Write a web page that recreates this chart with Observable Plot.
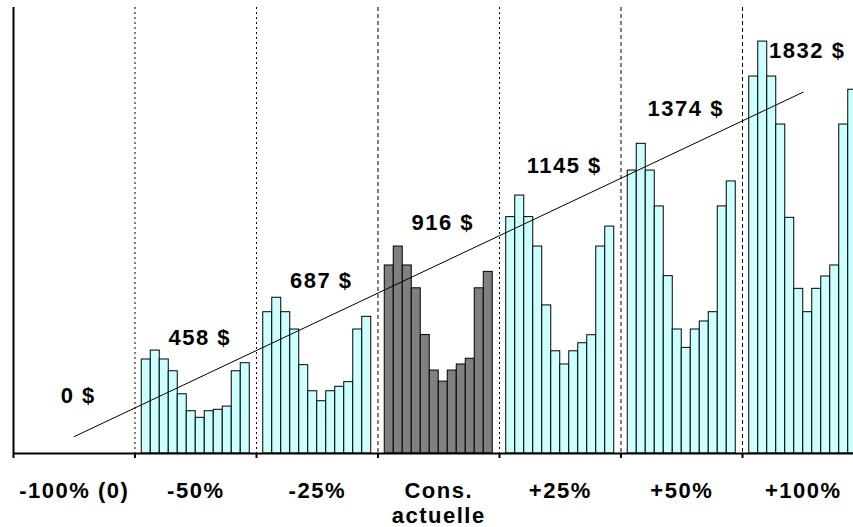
<!DOCTYPE html>
<html>
<head>
<meta charset="utf-8">
<script src="https://cdn.jsdelivr.net/npm/d3@7"></script>
<script src="https://cdn.jsdelivr.net/npm/@observablehq/plot@0.6"></script>
<style>
  html, body { margin: 0; padding: 0; background: #fff; overflow: hidden; }
  #chart svg { display: block; }
</style>
</head>
<body>
<div id="chart"></div>
<script>
// Consumption scenarios (x groups)
const scenarios = ["-100% (0)", "-50%", "-25%", "Cons.\nactuelle", "+25%", "+50%", "+100%"];
// Annual cost for each scenario ($)
const annualCost = [0, 458, 687, 916, 1145, 1374, 1832];

// Monthly cost, January to December ($)
const monthlyMinus100 = [0, 0, 0, 0, 0, 0, 0, 0, 0, 0, 0, 0];
const monthlyMinus50  = [52.7, 57.7, 52.7, 46.1, 33.2, 23.7, 20.0, 23.7, 24.5, 26.3, 46.1, 50.6];
const monthlyMinus25  = [79.2, 87.3, 79.2, 69.5, 49.5, 34.9, 29.3, 34.9, 37.4, 40.0, 69.5, 76.6];
const monthlyCurrent  = [105.4, 116.0, 105.4, 92.6, 66.4, 46.5, 40.3, 46.5, 49.9, 53.1, 92.6, 101.8];
const monthlyPlus25   = [132.5, 144.6, 132.5, 116.0, 83.0, 57.3, 49.9, 57.3, 61.8, 66.3, 116.0, 127.2];
const monthlyPlus50   = [158.6, 173.6, 158.6, 138.5, 99.4, 69.5, 59.2, 69.5, 74.0, 79.2, 138.5, 152.5];
const monthlyPlus100  = [211.3, 230.9, 211.3, 184.4, 132.1, 92.3, 79.2, 92.3, 99.2, 105.4, 184.4, 203.9];

const monthly = [monthlyMinus100, monthlyMinus50, monthlyMinus25, monthlyCurrent,
                 monthlyPlus25, monthlyPlus50, monthlyPlus100];
const currentIndex = 3;

// Two value axes: monthly cost for bars, annual cost for the trend
const primaryMax = 250;
const secondaryMax = 2160;
const toPrimary = v => v * primaryMax / secondaryMax;

// Each group is one unit wide; 12 bars with a 150% gap split on both sides
const slots = 13.5;
const bars = scenarios.flatMap((s, g) =>
  monthly[g].map((v, m) => ({
    g, m, v,
    x1: g + (0.75 + m) / slots,
    x2: g + (1.75 + m) / slots,
    current: g === currentIndex
  }))
).filter(d => d.v > 0);

const totals = annualCost.map((total, i) => ({ x: i + 0.5, total }));

// Least-squares fit of the annual cost, used to place the cost labels
const mx = d3.mean(totals, d => d.x);
const my = d3.mean(totals, d => d.total);
const slope = d3.sum(totals, d => (d.x - mx) * (d.total - my)) /
              d3.sum(totals, d => (d.x - mx) ** 2);
const fit = x => my + slope * (x - mx);

const boundaries = d3.range(1, scenarios.length);
const dashed = [3, 5, 6];

const font = "'Liberation Sans', Arial, Helvetica, sans-serif";

const chart = Plot.plot({
  width: 853,
  height: 527,
  marginTop: 7,
  marginBottom: 74,
  marginLeft: 13,
  marginRight: 0,
  style: `background: #fff; overflow: hidden; font-family: ${font}; letter-spacing: 1.5px;`,
  x: { domain: [0, scenarios.length], range: [13, 863.5], axis: null },
  y: { domain: [0, primaryMax], axis: null },
  marks: [
    // group separators
    Plot.ruleX(boundaries.filter(b => !dashed.includes(b)), {
      stroke: "#000", strokeWidth: 1, strokeDasharray: "2,3"
    }),
    Plot.ruleX(dashed, {
      stroke: "#000", strokeWidth: 1, strokeDasharray: "4,3"
    }),
    // monthly bars
    Plot.rectY(bars, {
      x1: "x1", x2: "x2", y: "v",
      fill: d => d.current ? "#808080" : "#CCFFFF",
      stroke: "#000", strokeWidth: 1
    }),
    // axes lines and ticks
    Plot.ruleY([0], { stroke: "#000", strokeWidth: 2 }),
    Plot.ruleX([0], { stroke: "#000", strokeWidth: 2, insetBottom: -5 }),
    Plot.ruleX(boundaries, { y1: 0, y2: 0, insetBottom: -5, stroke: "#000", strokeWidth: 2 }),
    // linear trend of the annual cost
    Plot.linearRegressionY(totals, {
      x: "x", y: d => toPrimary(d.total), ci: 0,
      stroke: "#000", strokeWidth: 1
    }),
    // annual cost labels
    Plot.text(totals, {
      x: "x", y: d => toPrimary(fit(d.x)),
      text: d => `${d.total} $`,
      dy: -41, dx: 4,
      fontSize: 22, fontWeight: "bold", fill: "#000"
    }),
    // scenario labels
    Plot.text(scenarios, {
      x: (d, i) => i + 0.5, y: () => 0,
      text: d => d,
      lineAnchor: "top", lineHeight: 1.13, dy: 27,
      fontSize: 22, fontWeight: "bold", fill: "#000"
    })
  ]
});

document.getElementById("chart").appendChild(chart);
</script>
</body>
</html>
